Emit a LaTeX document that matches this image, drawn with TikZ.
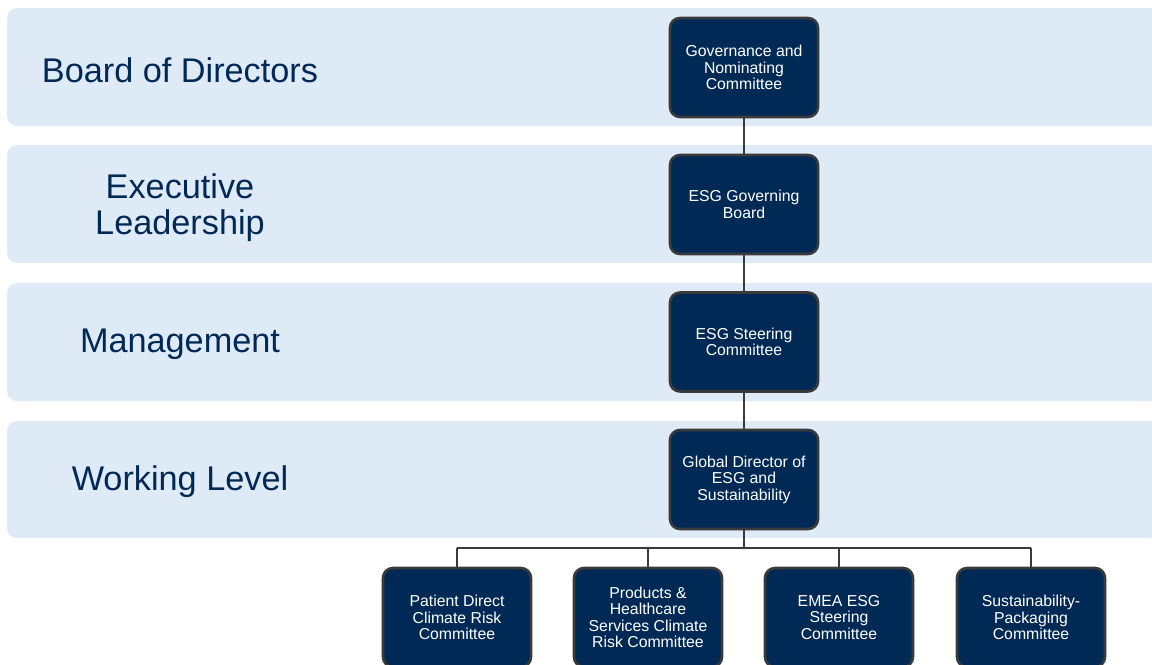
\documentclass[tikz,border=0pt]{standalone}
\usepackage{fontspec}
\setmainfont{Liberation Sans}
\definecolor{navy}{RGB}{0,41,86}
\definecolor{bandblue}{RGB}{223,234,247}
\definecolor{edgegray}{RGB}{58,58,58}
\tikzset{
  band/.style={fill=bandblue,rounded corners=0.2cm},
  tier/.style={text=navy,font=\fontsize{19.5}{20.5}\selectfont,align=center},
  unit/.style={draw=edgegray,line width=1.5pt,fill=navy,rounded corners=0.2cm,
    minimum width=2.96cm,minimum height=1.98cm,text=white,align=center,
    font=\fontsize{9}{9.4}\selectfont,inner sep=1pt},
  link/.style={draw=edgegray,line width=1.1pt}
}
\begin{document}
\begin{tikzpicture}[x=0.02cm,y=-0.02cm]
\useasboundingbox(0,0)rectangle(1152,664);
% bands
\fill[band](7,8)rectangle(1160,126);
\fill[band](7,145)rectangle(1160,263);
\fill[band](7,283)rectangle(1160,401);
\fill[band](7,421)rectangle(1160,538);
\node[tier](board)at(180,70){Board of Directors};
\node[tier](exec)at(180,208){Executive\\Leadership};
\node[tier](mgmt)at(180,344){Management};
\node[tier](work)at(180,482){Working Level};
% main chain
\node[unit](gov)at(744,67.5){Governance and\\Nominating\\Committee};
\node[unit](board2)at(744,204.5){ESG Governing\\Board};
\node[unit](steer)at(744,342){ESG Steering\\Committee};
\node[unit](gdir)at(744,479.5){Global Director of\\ESG and\\Sustainability};
% committees
\node[unit](pd)at(457,617.5){Patient Direct\\Climate Risk\\Committee};
\node[unit](phs)at(648,617.5){Products \&\\Healthcare\\Services Climate\\Risk Committee};
\node[unit](emea)at(839,617.5){EMEA ESG\\Steering\\Committee};
\node[unit](pack)at(1031,617.5){Sustainability-\\Packaging\\Committee};
\draw[link](gov)--(board2);
\draw[link](board2)--(steer);
\draw[link](steer)--(gdir);
\draw[link](gdir.south)--++(0,18)coordinate(bus);
\draw[link](bus-|pd.north)--(bus-|pack.north);
\foreach \c in {pd,phs,emea,pack}
  \draw[link](bus-|\c.north)--(\c.north);
\end{tikzpicture}
\end{document}
